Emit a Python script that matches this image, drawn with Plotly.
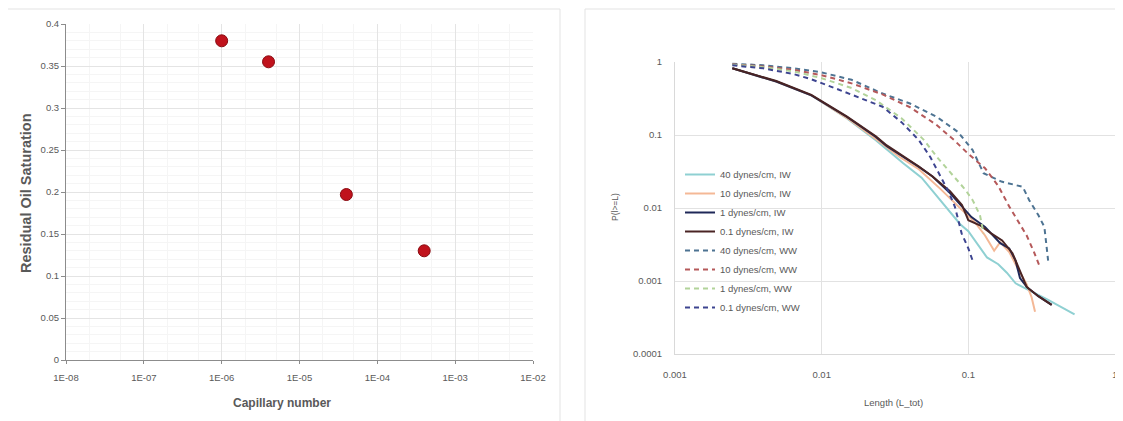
import plotly.graph_objects as go

# Page body has an 8px margin, so the figure is drawn 8px in from the window edge.
OFF = 8
W, H = 1123, 421

# ---------------- Left chart data ----------------
cap_number = [1.0e-6, 4.0e-6, 4.0e-5, 4.0e-4]
residual_oil = [0.38, 0.355, 0.197, 0.13]
left_xtick_vals = [1e-8, 1e-7, 1e-6, 1e-5, 1e-4, 1e-3, 1e-2]
left_xtick_text = ["1E-08", "1E-07", "1E-06", "1E-05", "1E-04", "1E-03", "1E-02"]
left_ytick_vals = [0, 0.05, 0.1, 0.15, 0.2, 0.25, 0.3, 0.35, 0.4]
left_ytick_text = ["0", "0.05", "0.1", "0.15", "0.2", "0.25", "0.3", "0.35", "0.4"]

# ---------------- Right chart data ----------------
iw40_x = [0.00246, 0.0049, 0.0085, 0.0148, 0.0234, 0.036, 0.048, 0.064, 0.088, 0.1, 0.134, 0.16, 0.183, 0.21, 0.26, 0.35, 0.53]
iw40_y = [0.82, 0.54, 0.35, 0.17, 0.085, 0.041, 0.026, 0.0128, 0.006, 0.0048, 0.0021, 0.0017, 0.0013, 0.00093, 0.00075, 0.00055, 0.00035]

iw10_x = [0.00246, 0.0049, 0.0085, 0.0148, 0.0234, 0.034, 0.046, 0.065, 0.09, 0.11, 0.13, 0.15, 0.165, 0.19, 0.21, 0.23, 0.25, 0.27, 0.285]
iw10_y = [0.82, 0.54, 0.35, 0.172, 0.088, 0.05, 0.034, 0.018, 0.0095, 0.0065, 0.0042, 0.0026, 0.0034, 0.0025, 0.0017, 0.0012, 0.0009, 0.0006, 0.00038]

iw1_x = [0.00246, 0.0049, 0.0085, 0.0148, 0.0234, 0.0278, 0.046, 0.057, 0.075, 0.0905, 0.105, 0.13, 0.165, 0.19, 0.21, 0.225, 0.25, 0.3, 0.37]
iw1_y = [0.82, 0.54, 0.35, 0.178, 0.094, 0.07, 0.0366, 0.027, 0.016, 0.0104, 0.0075, 0.0055, 0.0033, 0.0028, 0.0019, 0.0011, 0.00083, 0.00062, 0.00047]

iw01_x = [0.00246, 0.0049, 0.0085, 0.0148, 0.0234, 0.0278, 0.046, 0.057, 0.075, 0.0905, 0.1, 0.12, 0.143, 0.17, 0.2, 0.22, 0.25, 0.3, 0.37]
iw01_y = [0.82, 0.55, 0.355, 0.18, 0.096, 0.072, 0.037, 0.027, 0.017, 0.011, 0.0068, 0.0058, 0.0045, 0.0036, 0.0024, 0.0015, 0.00083, 0.00062, 0.00047]

ww40_x = [0.00246, 0.004, 0.0065, 0.01, 0.016, 0.026, 0.04, 0.061, 0.085, 0.107, 0.127, 0.168, 0.235, 0.26, 0.3, 0.33, 0.35]
ww40_y = [0.95, 0.9, 0.82, 0.72, 0.57, 0.37, 0.27, 0.177, 0.11, 0.062, 0.03, 0.023, 0.0195, 0.0128, 0.008, 0.0055, 0.0019]

ww10_x = [0.00246, 0.004, 0.0065, 0.01, 0.016, 0.026, 0.04, 0.06, 0.08, 0.1, 0.13, 0.16, 0.19, 0.22, 0.25, 0.28, 0.31]
ww10_y = [0.93, 0.87, 0.78, 0.66, 0.51, 0.36, 0.24, 0.14, 0.085, 0.055, 0.035, 0.02, 0.0105, 0.0065, 0.0042, 0.0025, 0.0015]

ww1_x = [0.00246, 0.004, 0.0065, 0.01, 0.016, 0.0234, 0.035, 0.05, 0.061, 0.08, 0.095, 0.107, 0.12, 0.127]
ww1_y = [0.92, 0.85, 0.74, 0.6, 0.44, 0.3, 0.17, 0.085, 0.05, 0.027, 0.018, 0.0128, 0.008, 0.0045]

ww01_x = [0.00246, 0.004, 0.0065, 0.0085, 0.013, 0.02, 0.026, 0.035, 0.046, 0.055, 0.065, 0.073, 0.081, 0.09, 0.1, 0.107]
ww01_y = [0.9, 0.82, 0.68, 0.58, 0.42, 0.3, 0.244, 0.15, 0.085, 0.05, 0.027, 0.017, 0.0104, 0.0045, 0.0028, 0.0019]

series_names = ["40 dynes/cm, IW", "10 dynes/cm, IW", "1 dynes/cm, IW", "0.1 dynes/cm, IW",
                "40 dynes/cm, WW", "10 dynes/cm, WW", "1 dynes/cm, WW", "0.1 dynes/cm, WW"]
right_xtick_vals = [0.001, 0.01, 0.1, 1]
right_xtick_text = ["0.001", "0.01", "0.1", "1"]
right_ytick_vals = [0.0001, 0.001, 0.01, 0.1, 1]
right_ytick_text = ["0.0001", "0.001", "0.01", "0.1", "1"]

# ---------------- Styles ----------------
colors = ["#8fd0d2", "#f4b896", "#1f2858", "#4a2424",
          "#4d7392", "#b5595a", "#b2d39a", "#3d4490"]
FAM = "Liberation Sans Narrow, Arial Narrow, Liberation Sans, Arial"
TICKFONT = dict(family=FAM, size=9.5, color="#595959")

def px_x(p):
    return (p - OFF) / W

def px_y(p):
    return 1 - (p - OFF) / H

fig = go.Figure()

# Left chart scatter
fig.add_trace(go.Scatter(
    x=cap_number, y=residual_oil, mode="markers",
    marker=dict(size=12, color="#c0121c", line=dict(color="#8a0a10", width=1)),
    xaxis="x", yaxis="y", showlegend=False))

# Right chart lines
xs = [iw40_x, iw10_x, iw1_x, iw01_x, ww40_x, ww10_x, ww1_x, ww01_x]
ys = [iw40_y, iw10_y, iw1_y, iw01_y, ww40_y, ww10_y, ww1_y, ww01_y]
for i, (xv, yv) in enumerate(zip(xs, ys)):
    dashed = i >= 4
    fig.add_trace(go.Scatter(
        x=xv, y=yv, mode="lines", name=series_names[i],
        line=dict(color=colors[i], width=2, dash="5px,4px" if dashed else "solid"),
        xaxis="x2", yaxis="y2", showlegend=True))

fig.update_layout(
    width=W, height=H, margin=dict(l=0, r=0, t=0, b=0, autoexpand=False),
    paper_bgcolor="white", plot_bgcolor="white",
    xaxis=dict(type="log", range=[-8, -2], domain=[px_x(66), px_x(533)], automargin=False,
               tickvals=left_xtick_vals, ticktext=left_xtick_text, tickfont=TICKFONT,
               showgrid=True, gridcolor="#e4e4e4", gridwidth=1,
               minor=dict(showgrid=True, gridcolor="#f5f5f5", ticks=""),
               showline=True, linecolor="#8c8c8c", linewidth=1,
               ticks="outside", ticklen=3, tickcolor="#8c8c8c", zeroline=False,
               ticklabelstandoff=6, anchor="y"),
    yaxis=dict(range=[0, 0.4], domain=[px_y(360), px_y(24)], automargin=False,
               tickvals=left_ytick_vals, ticktext=left_ytick_text, tickfont=TICKFONT,
               showgrid=True, gridcolor="#e4e4e4", gridwidth=1,
               minor=dict(showgrid=True, gridcolor="#f5f5f5", dtick=0.01, ticks=""),
               showline=True, linecolor="#8c8c8c", linewidth=1,
               ticks="outside", ticklen=4, tickcolor="#8c8c8c", zeroline=False,
               anchor="x"),
    xaxis2=dict(type="log", range=[-3, 0], domain=[px_x(675), px_x(1115)], automargin=False,
                tickvals=right_xtick_vals, ticktext=right_xtick_text, tickfont=TICKFONT,
                showgrid=True, gridcolor="#e2e2e2", gridwidth=1,
                showline=True, linecolor="#d9d9d9", linewidth=1,
                ticks="", ticklabelstandoff=12, zeroline=False, anchor="y2"),
    yaxis2=dict(type="log", range=[-4, 0], domain=[px_y(354), px_y(62)], automargin=False,
                tickvals=right_ytick_vals, ticktext=right_ytick_text, tickfont=TICKFONT,
                showgrid=True, gridcolor="#e2e2e2", gridwidth=1,
                showline=True, linecolor="#d9d9d9", linewidth=1,
                ticks="", ticklabelstandoff=10, zeroline=False, anchor="x2"),
    legend=dict(x=px_x(680), y=px_y(160), xanchor="left", yanchor="top",
                bgcolor="rgba(0,0,0,0)", borderwidth=0,
                font=dict(family=FAM, size=9.5, color="#595959"),
                tracegroupgap=0, itemwidth=30),
    shapes=[
        dict(type="rect", xref="paper", yref="paper", x0=px_x(5), x1=px_x(560), y0=px_y(430), y1=px_y(9),
             line=dict(color="#e3e3e3", width=1), fillcolor="rgba(0,0,0,0)", layer="below"),
        dict(type="rect", xref="paper", yref="paper", x0=px_x(585), x1=px_x(1135), y0=px_y(430), y1=px_y(9),
             line=dict(color="#e3e3e3", width=1), fillcolor="rgba(0,0,0,0)", layer="below"),
    ],
    annotations=[
        dict(text="<b>Residual Oil Saturation</b>", xref="paper", yref="paper",
             x=px_x(26), y=px_y(193), xanchor="center", yanchor="middle",
             textangle=-90, showarrow=False,
             font=dict(family="Liberation Sans, Arial", size=14.5, color="#595959")),
        dict(text="<b>Capillary number</b>", xref="paper", yref="paper",
             x=px_x(282), y=px_y(403), xanchor="center", yanchor="middle", showarrow=False,
             font=dict(family=FAM, size=12, color="#595959")),
        dict(text="P(l>=L)", xref="paper", yref="paper",
             x=px_x(615), y=px_y(207), xanchor="center", yanchor="middle",
             textangle=-90, showarrow=False,
             font=dict(family=FAM, size=8.5, color="#595959")),
        dict(text="Length (L_tot)", xref="paper", yref="paper",
             x=px_x(893), y=px_y(402), xanchor="center", yanchor="middle", showarrow=False,
             font=dict(family=FAM, size=9.5, color="#595959")),
    ],
)

fig.write_html("out.html")
